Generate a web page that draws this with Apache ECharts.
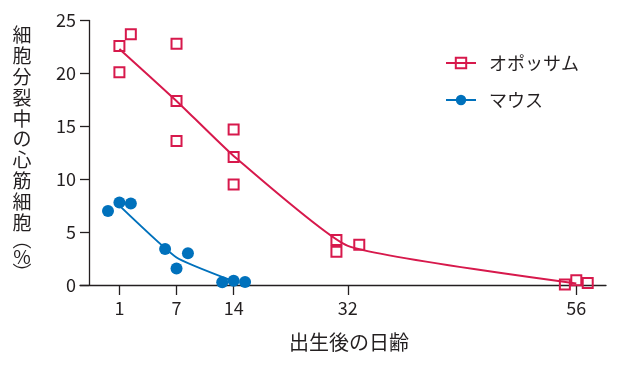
<!DOCTYPE html>
<html><head><meta charset="utf-8">
<script src="https://cdn.jsdelivr.net/npm/echarts@6/dist/echarts.min.js"></script>
<style>html,body{margin:0;padding:0;background:#fff}#c{width:620px;height:365px}</style>
</head><body><div id="c"></div>
<script>
// Tick labels (days after birth) and their positions on the (non-linear) x axis
const dayLabels = ['1', '7', '14', '32', '56'];
const dayPositions = [0, 1, 2, 4, 8];

// Individual measurements: x in axis units (with the small side-by-side spread of the original)
const opossumX = [0, 0.2, 0, 1, 1, 1, 2, 2, 2, 3.8, 3.8, 4.2, 7.8, 8.0, 8.2];
const opossumY = [22.6, 23.7, 20.1, 22.8, 17.4, 13.6, 14.7, 12.1, 9.5, 4.25, 3.15, 3.8, 0.05, 0.45, 0.2];
const mouseX = [-0.2, 0, 0.2, 0.8, 1.0, 1.2, 1.8, 2.0, 2.2];
const mouseY = [7.0, 7.8, 7.7, 3.4, 1.55, 3.0, 0.25, 0.4, 0.28];

// Trend lines (value at each day)
const opossumTrend = [22.3, 17.4, 12.2, 3.7, 0.15];
const mouseTrend = [7.5, 2.6, 0.35];

const seriesNames = ['オポッサム', 'マウス'];
const xName = '出生後の日齢';
const yNameText = '細胞分裂中の心筋細胞';

const RED = '#d7194c', BLUE = '#0071bc', INK = '#231f20';
const FONT = '"Noto Sans CJK JP", "Noto Sans", sans-serif';

const yName = yNameText.split('').map(c => '{c|' + c + '}').join('\n') + '\n{p1|︵}\n{pc|%}\n{p2|︶}';

const chart = echarts.init(document.getElementById('c'), null, {renderer: 'canvas'});
chart.setOption({
  animation: false,
  backgroundColor: '#fff',
  textStyle: {fontFamily: FONT, color: INK},
  grid: {left: 80, right: 14, top: 20.5, bottom: 80, outerBoundsMode: 'none'},
  legend: {
    orient: 'vertical', left: 440, top: 47, itemWidth: 30, itemHeight: 13, itemGap: 15,
    selectedMode: false,
    textStyle: {fontSize: 18, lineHeight: 22, color: INK, fontFamily: FONT, padding: [0, 0, 0, 8]},
    data: [
      {name: seriesNames[0], itemStyle: {color: 'transparent', borderColor: RED, borderWidth: 2}},
      {name: seriesNames[1], itemStyle: {color: BLUE, borderWidth: 0}}
    ]
  },
  xAxis: {
    type: 'value', min: -0.69, max: 8.52,
    name: xName, nameLocation: 'middle', nameGap: 47,
    nameTextStyle: {fontSize: 20, color: INK, fontFamily: FONT, padding: [0, 0, 0, 12]},
    axisLine: {onZero: false, lineStyle: {color: INK, width: 1.3}},
    axisTick: {customValues: dayPositions, length: 10, lineStyle: {color: INK, width: 1.3}},
    axisLabel: {customValues: dayPositions, formatter: v => dayLabels[dayPositions.indexOf(v)],
      fontSize: 18, margin: 14, color: INK, fontFamily: FONT},
    splitLine: {show: false}
  },
  yAxis: {
    type: 'value', min: 0, max: 25, interval: 5, offset: -9,
    axisLine: {show: true, onZero: false, lineStyle: {color: INK, width: 1.3}},
    axisTick: {show: true, length: 9, lineStyle: {color: INK, width: 1.3}},
    axisLabel: {fontSize: 18, margin: 13, color: INK, fontFamily: FONT},
    splitLine: {show: false},
    name: yName, nameLocation: 'middle', nameRotate: 0, nameGap: 57,
    nameTextStyle: {
      fontFamily: FONT, color: INK,
      rich: {
        c: {fontSize: 19, lineHeight: 20.8, width: 20, align: 'center', fontFamily: FONT, color: INK},
        p1: {fontSize: 19, lineHeight: 15, width: 20, align: 'center', fontFamily: FONT, color: INK},
        pc: {fontSize: 19, lineHeight: 18, width: 20, align: 'center', fontFamily: FONT, color: INK},
        p2: {fontSize: 19, lineHeight: 15, width: 20, align: 'center', fontFamily: FONT, color: INK}
      }
    }
  },
  series: [
    {
      name: seriesNames[0], type: 'line', smooth: 0.15, symbol: 'rect', showSymbol: false,
      itemStyle: {color: 'transparent', borderColor: RED, borderWidth: 2},
      lineStyle: {color: RED, width: 2},
      data: opossumTrend.map((v, i) => [dayPositions[i], v]), z: 2, silent: true
    },
    {
      name: seriesNames[1], type: 'line', smooth: 0.15, symbol: 'circle', showSymbol: false,
      itemStyle: {color: BLUE},
      lineStyle: {color: BLUE, width: 2},
      data: mouseTrend.map((v, i) => [dayPositions[i], v]), z: 2, silent: true
    },
    {
      name: seriesNames[0], type: 'scatter', symbol: 'rect', symbolSize: 10,
      itemStyle: {color: 'transparent', borderColor: RED, borderWidth: 2, opacity: 1},
      data: opossumX.map((x, i) => [x, opossumY[i]]), z: 3, silent: true
    },
    {
      name: seriesNames[1], type: 'scatter', symbol: 'circle', symbolSize: 12,
      itemStyle: {color: BLUE, opacity: 1},
      data: mouseX.map((x, i) => [x, mouseY[i]]), z: 3, silent: true
    }
  ]
});
</script>
</body></html>
